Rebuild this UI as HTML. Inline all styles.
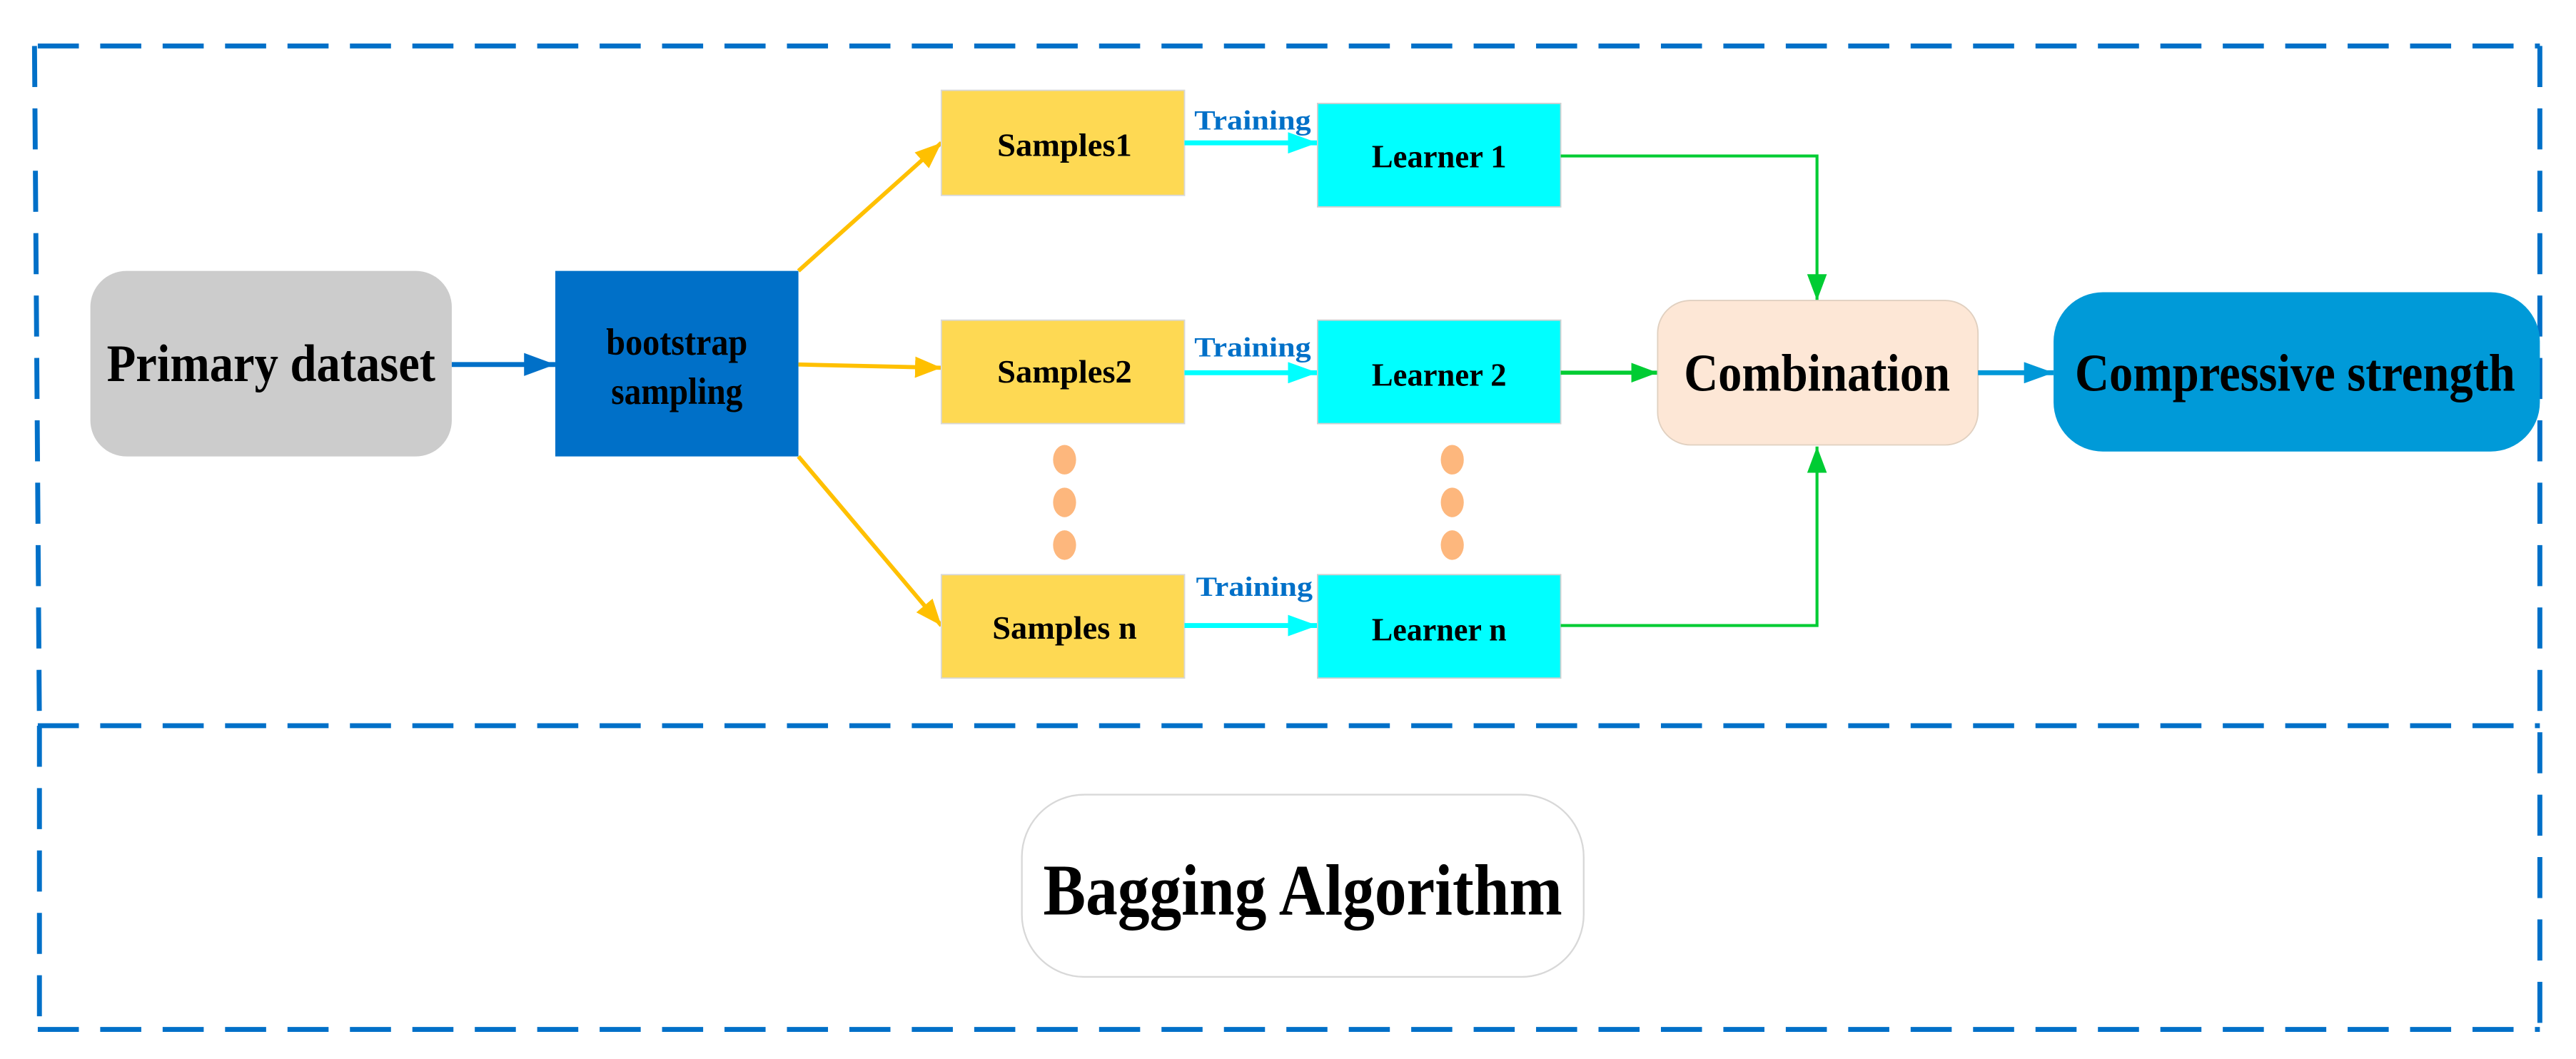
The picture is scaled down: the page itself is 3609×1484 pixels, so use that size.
<!DOCTYPE html>
<html><head><meta charset="utf-8"><style>html,body{margin:0;padding:0;background:#fff}svg{display:block}</style></head>
<body>
<svg width="3609" height="1484" viewBox="0 0 1568 645" preserveAspectRatio="none" xmlns="http://www.w3.org/2000/svg" font-family="Liberation Serif, serif" font-weight="bold">
<defs>
<marker id="ab" markerWidth="19" markerHeight="14" refX="19" refY="7" orient="auto" markerUnits="userSpaceOnUse"><path d="M0,0 L19,7 L0,14 Z" fill="#0070c8"/></marker>
<marker id="ay" markerWidth="16" markerHeight="13" refX="16" refY="6.5" orient="auto" markerUnits="userSpaceOnUse"><path d="M0,0 L16,6.5 L0,13 Z" fill="#ffc000"/></marker>
<marker id="ac" markerWidth="18" markerHeight="13" refX="18" refY="6.5" orient="auto" markerUnits="userSpaceOnUse"><path d="M0,0 L18,6.5 L0,13 Z" fill="#00ffff"/></marker>
<marker id="ag" markerWidth="16" markerHeight="12" refX="16" refY="6" orient="auto" markerUnits="userSpaceOnUse"><path d="M0,0 L16,6 L0,12 Z" fill="#00cc33"/></marker>
<marker id="al" markerWidth="18" markerHeight="13" refX="18" refY="6.5" orient="auto" markerUnits="userSpaceOnUse"><path d="M0,0 L18,6.5 L0,13 Z" fill="#0098d8"/></marker>
</defs>
<g fill="none" stroke="#0070c8" stroke-width="3" stroke-dasharray="25,13">
<path d="M23,28 L1546,28"/>
<path d="M23,442 L1546,442"/>
<path d="M23,627 L1546,627"/>
<path d="M21,28 L24,442"/>
<path d="M24,442 L24,627"/>
<path d="M1546,28 L1546,627"/>
</g>
<rect x="55" y="165" width="220" height="113" rx="22" fill="#cccccc"/>
<text x="165" y="232" font-size="32" text-anchor="middle" textLength="200" lengthAdjust="spacingAndGlyphs">Primary dataset</text>
<line x1="275" y1="222" x2="338" y2="222" stroke="#0070c8" stroke-width="3" marker-end="url(#ab)"/>
<rect x="338" y="165" width="148" height="113" fill="#0070c8"/>
<text x="412" y="216" font-size="23" text-anchor="middle" textLength="86" lengthAdjust="spacingAndGlyphs">bootstrap</text>
<text x="412" y="246" font-size="23" text-anchor="middle" textLength="80" lengthAdjust="spacingAndGlyphs">sampling</text>
<g stroke="#ffc000" stroke-width="2.5">
<line x1="486" y1="165" x2="573" y2="87" marker-end="url(#ay)"/>
<line x1="486" y1="222" x2="573" y2="224" marker-end="url(#ay)"/>
<line x1="486" y1="278" x2="573" y2="381" marker-end="url(#ay)"/>
</g>
<g fill="#fed953" stroke="#d8d8d8" stroke-width="0.8">
<rect x="573" y="55" width="148" height="64"/>
<rect x="573" y="195" width="148" height="63"/>
<rect x="573" y="350" width="148" height="63"/>
</g>
<g font-size="20" text-anchor="middle">
<text x="648" y="95" textLength="82" lengthAdjust="spacingAndGlyphs">Samples1</text>
<text x="648" y="233" textLength="82" lengthAdjust="spacingAndGlyphs">Samples2</text>
<text x="648" y="389" textLength="88" lengthAdjust="spacingAndGlyphs">Samples n</text>
</g>
<g fill="#0070c8" font-size="17">
<text x="727" y="79" textLength="71" lengthAdjust="spacingAndGlyphs">Training</text>
<text x="727" y="217" textLength="71" lengthAdjust="spacingAndGlyphs">Training</text>
<text x="728" y="363" textLength="71" lengthAdjust="spacingAndGlyphs">Training</text>
</g>
<g stroke="#00ffff" stroke-width="3">
<line x1="721" y1="87" x2="802" y2="87" marker-end="url(#ac)"/>
<line x1="721" y1="227" x2="802" y2="227" marker-end="url(#ac)"/>
<line x1="721" y1="381" x2="802" y2="381" marker-end="url(#ac)"/>
</g>
<g fill="#00ffff" stroke="#d0d0d0" stroke-width="0.8">
<rect x="802" y="63" width="148" height="63"/>
<rect x="802" y="195" width="148" height="63"/>
<rect x="802" y="350" width="148" height="63"/>
</g>
<g font-size="20" text-anchor="middle">
<text x="876" y="102" textLength="82" lengthAdjust="spacingAndGlyphs">Learner 1</text>
<text x="876" y="235" textLength="82" lengthAdjust="spacingAndGlyphs">Learner 2</text>
<text x="876" y="390" textLength="82" lengthAdjust="spacingAndGlyphs">Learner n</text>
</g>
<g fill="#fdb77d">
<ellipse cx="648" cy="280" rx="7" ry="9"/><ellipse cx="648" cy="306" rx="7" ry="9"/><ellipse cx="648" cy="332" rx="7" ry="9"/>
<ellipse cx="884" cy="280" rx="7" ry="9"/><ellipse cx="884" cy="306" rx="7" ry="9"/><ellipse cx="884" cy="332" rx="7" ry="9"/>
</g>
<g fill="none" stroke="#00cc33" stroke-width="1.8">
<path d="M950,95 L1106,95 L1106,183" marker-end="url(#ag)"/>
<path d="M950,381 L1106,381 L1106,272" marker-end="url(#ag)"/>
<line x1="950" y1="227" x2="1009" y2="227" stroke-width="2.5" marker-end="url(#ag)"/>
</g>
<rect x="1009" y="183" width="195" height="88" rx="20" fill="#fde7d6" stroke="#e0d0c0" stroke-width="0.8"/>
<text x="1106" y="238" font-size="32" text-anchor="middle" textLength="162" lengthAdjust="spacingAndGlyphs">Combination</text>
<line x1="1204" y1="227" x2="1250" y2="227" stroke="#0098d8" stroke-width="3" marker-end="url(#al)"/>
<rect x="1250" y="178" width="296" height="97" rx="30" fill="#009ad8"/>
<text x="1397" y="238" font-size="32" text-anchor="middle" textLength="268" lengthAdjust="spacingAndGlyphs">Compressive strength</text>
<rect x="622" y="484" width="342" height="111" rx="38" fill="#fff" stroke="#d8d8d8" stroke-width="1"/>
<text x="793" y="557" font-size="44" text-anchor="middle" textLength="316" lengthAdjust="spacingAndGlyphs">Bagging Algorithm</text>
</svg>
</body></html>
